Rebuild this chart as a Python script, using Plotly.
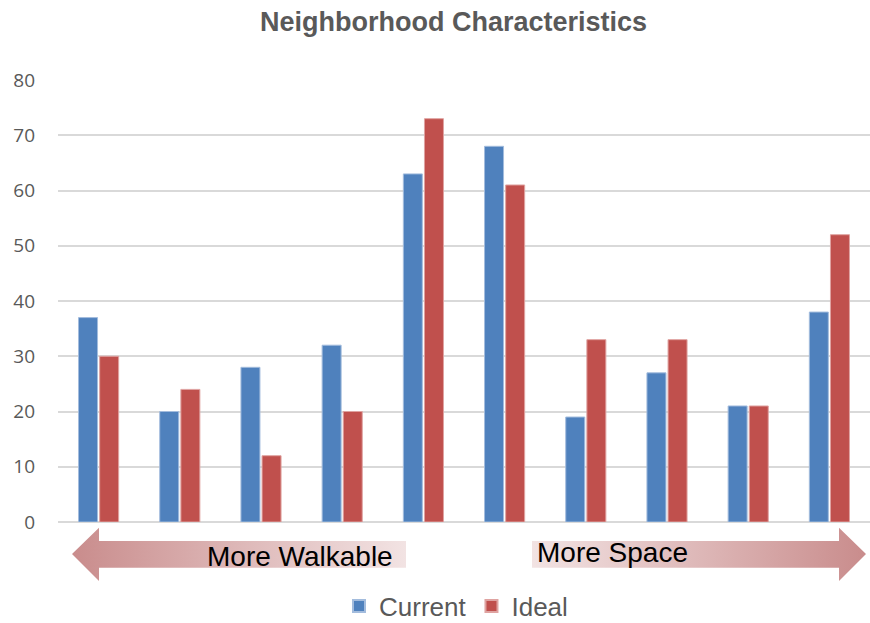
import plotly.graph_objects as go

# ---- data ----
categories = ["1", "2", "3", "4", "5", "6", "7", "8", "9", "10"]
current = [37, 20, 28, 32, 63, 68, 19, 27, 21, 38]
ideal = [30, 24, 12, 20, 73, 61, 33, 33, 21, 52]
series_names = ["Current", "Ideal"]
y_ticks = [0, 10, 20, 30, 40, 50, 60, 70, 80]

# decoration arrows (figure pixel space: x from left, y from bottom)
left_arrow_x = [72, 99, 99, 406, 406, 99, 99, 72]
left_arrow_y = [69, 95.3, 82, 82, 55.3, 55.3, 42, 69]
right_arrow_x = [532, 839, 839, 866, 839, 839, 532, 532]
right_arrow_y = [82, 82, 95.3, 69, 42, 55.3, 55.3, 82]

W, H = 870, 623
ML, MR, MT, MB = 58, 0, 80, 38
plot_h = H - MT - MB
zero_px = 522
main_dom0 = (H - MB - zero_px) / plot_h  # fraction from bottom of plot area
arrow_dom1 = main_dom0 - 0.002

fig = go.Figure()
fig.add_trace(go.Bar(x=categories, y=current, name=series_names[0],
                     marker=dict(color="#4F81BD", line=dict(color="#A3BCDD", width=1))))
fig.add_trace(go.Bar(x=categories, y=ideal, name=series_names[1],
                     marker=dict(color="#C0504D", line=dict(color="#DFA3A1", width=1))))

fig.add_trace(go.Scatter(x=left_arrow_x, y=left_arrow_y, xaxis="x2", yaxis="y2",
                         mode="lines", line=dict(width=0), fill="toself",
                         fillgradient=dict(type="horizontal",
                                           colorscale=[[0, "#C98C8C"], [1, "#F2E3E3"]]),
                         showlegend=False, hoverinfo="skip"))
fig.add_trace(go.Scatter(x=right_arrow_x, y=right_arrow_y, xaxis="x2", yaxis="y2",
                         mode="lines", line=dict(width=0), fill="toself",
                         fillgradient=dict(type="horizontal",
                                           colorscale=[[0, "#F2E3E3"], [1, "#C98C8C"]]),
                         showlegend=False, hoverinfo="skip"))

fig.add_annotation(x=300, y=67, xref="x2", yref="y2", text="More Walkable",
                   showarrow=False, font=dict(family="Liberation Sans, Arial", size=28, color="#000000"))
fig.add_annotation(x=612, y=70.5, xref="x2", yref="y2", text="More Space",
                   showarrow=False, font=dict(family="Liberation Sans, Arial", size=28, color="#000000"))

fig.update_layout(
    width=W, height=H, autosize=False,
    margin=dict(l=ML, r=MR, t=MT, b=MB, pad=0, autoexpand=False),
    paper_bgcolor="white", plot_bgcolor="white",
    title=dict(text="<b>Neighborhood Characteristics</b>", x=453.5 / W, xanchor="center",
               y=1 - 22 / H, yref="container", yanchor="middle",
               font=dict(family="Liberation Sans, Arial", size=27, color="#595959")),
    barmode="group", bargap=0.48, bargroupgap=0.1,
    xaxis=dict(range=[-0.5, 9.5], showticklabels=False, showgrid=False,
               zeroline=False, showline=False, ticks="", domain=[0, 1], anchor="y"),
    yaxis=dict(range=[0, 80], tickvals=y_ticks, domain=[main_dom0, 1],
               showgrid=True, gridcolor="#D9D9D9", gridwidth=1.5,
               zeroline=True, zerolinecolor="#D9D9D9", zerolinewidth=1.5,
               showline=False, ticks="", ticklabelstandoff=22,
               tickfont=dict(family="Open Sans, Liberation Sans", size=19, color="#595959")),
    xaxis2=dict(range=[ML, W - MR], domain=[0, 1], anchor="y2", visible=False, fixedrange=True),
    yaxis2=dict(range=[MB, MB + arrow_dom1 * plot_h], domain=[0, arrow_dom1], anchor="x2",
                visible=False, fixedrange=True),
    legend=dict(orientation="h", x=456 / W, xanchor="center", xref="container",
                y=(H - 606) / H, yref="container", yanchor="middle",
                font=dict(family="Liberation Sans, Arial", size=26, color="#595959"),
                itemsizing="constant", traceorder="normal", itemwidth=30,
                tracegroupgap=0, borderwidth=0),
    showlegend=True,
)

fig.write_html("out.html", config={"responsive": False, "displayModeBar": False},
               post_script="document.body.style.margin='0';document.body.style.padding='0';")
